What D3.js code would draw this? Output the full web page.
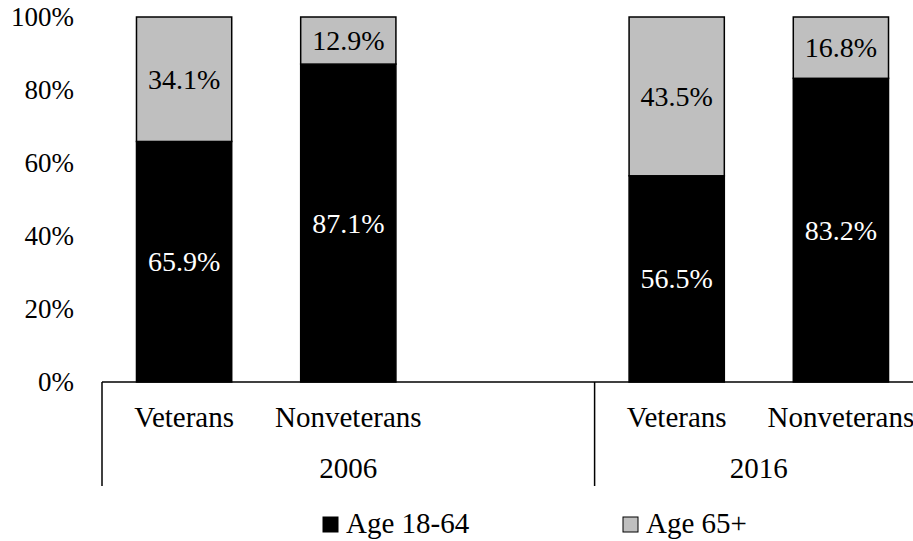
<!DOCTYPE html>
<html><head><meta charset="utf-8">
<script src="https://cdn.jsdelivr.net/npm/d3@7"></script>
<style>body{margin:0;background:#fff}svg{display:block}text{font-family:"Liberation Serif","Times New Roman",serif !important;fill:#000}</style>
</head><body>
<svg id="c" width="913" height="541"></svg>
<script>
const years = ["2006", "2016"];
const groups = ["Veterans", "Nonveterans"];
const slots = ["2006|Veterans", "2006|Nonveterans", "2006|", "2016|Veterans", "2016|Nonveterans"];
const age1864 = [65.9, 87.1, 56.5, 83.2];
const age65 = [34.1, 12.9, 43.5, 16.8];
const barKeys = ["2006|Veterans", "2006|Nonveterans", "2016|Veterans", "2016|Nonveterans"];
const yTicks = [0, 20, 40, 60, 80, 100];
const seriesNames = ["Age 18-64", "Age 65+"];
const colors = ["#000000", "#bfbfbf"];

(function () {
const svg = d3.select("#c");
const pL = 102, pR = 923, pT = 17, pB = 382;
const FF = '"Liberation Serif","Times New Roman",serif';

const x = d3.scaleBand().domain(slots).range([pL, pR]).paddingInner(0.42).paddingOuter(0.21);
const y = d3.scaleLinear().domain([0, 100]).range([pB, pT]);

const data = barKeys.map((k, i) => ({key: k, a: age1864[i], b: age65[i]}));
const stack = d3.stack().keys(["a", "b"])(data);

stack.forEach((layer, li) => {
  svg.append("g").selectAll("rect").data(layer).join("rect")
    .attr("x", d => x(d.data.key))
    .attr("width", x.bandwidth())
    .attr("y", d => y(d[1]))
    .attr("height", d => y(d[0]) - y(d[1]))
    .attr("fill", colors[li])
    .attr("stroke", "#000").attr("stroke-width", 1.5);
});
stack.forEach((layer, li) => {
  svg.append("g").selectAll("text").data(layer).join("text")
    .attr("x", d => x(d.data.key) + x.bandwidth() / 2)
    .attr("y", d => (y(d[0]) + y(d[1])) / 2)
    .attr("text-anchor", "middle").attr("dominant-baseline", "central")
    .attr("font-family", FF).attr("font-size", 28)
    .style("fill", li === 0 ? "#fff" : "#000")
    .text(d => (d[1] - d[0]).toFixed(1) + "%");
});

const yAxis = d3.axisLeft(y).tickValues(yTicks).tickFormat(d => d + "%").tickSize(0).tickPadding(28);
const ga = svg.append("g").attr("transform", `translate(${pL},0)`).call(yAxis)
  .attr("font-family", FF).attr("font-size", 27);
ga.select(".domain").remove();
ga.selectAll("text").attr("font-family", FF).attr("font-size", 27).attr("fill", "#000");

svg.append("line").attr("x1", pL).attr("x2", 913).attr("y1", pB).attr("y2", pB)
  .attr("stroke", "#000").attr("stroke-width", 1.5);

const step = x.step();
[0, 3, 5].map(i => pL + i * step).forEach(dx => {
  svg.append("line").attr("x1", dx).attr("x2", dx).attr("y1", pB).attr("y2", 486)
    .attr("stroke", "#000").attr("stroke-width", 1.5);
});

slots.forEach(s => {
  const g = s.split("|")[1];
  if (!g) return;
  svg.append("text").attr("x", x(s) + x.bandwidth() / 2).attr("y", 427)
    .attr("text-anchor", "middle").attr("font-family", FF).attr("font-size", 29).text(g);
});
years.forEach(yr => {
  const idx = slots.map((s, i) => s.startsWith(yr + "|") ? i : -1).filter(i => i >= 0);
  const x0 = pL + d3.min(idx) * step, x1 = pL + (d3.max(idx) + 1) * step;
  svg.append("text").attr("x", (x0 + x1) / 2).attr("y", 478)
    .attr("text-anchor", "middle").attr("font-family", FF).attr("font-size", 29).text(yr);
});

const legX = [323, 623];
seriesNames.forEach((n, i) => {
  svg.append("rect").attr("x", legX[i]).attr("y", 517).attr("width", 15).attr("height", 15)
    .attr("fill", colors[i]).attr("stroke", "#000").attr("stroke-width", 1);
  svg.append("text").attr("x", legX[i] + 23).attr("y", 533)
    .attr("font-family", FF).attr("font-size", 29).text(n);
});
})();
</script>
</body></html>
